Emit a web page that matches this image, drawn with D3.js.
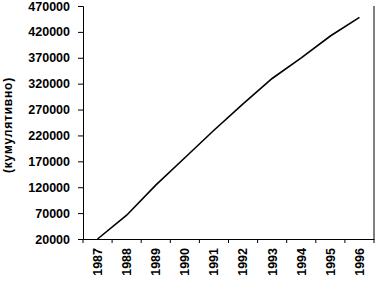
<!DOCTYPE html>
<html>
<head>
<meta charset="utf-8">
<script src="https://cdn.jsdelivr.net/npm/d3@7"></script>
<style>
  body { margin: 0; background: #fff; }
  svg text { font-family: "Liberation Sans", Arial, sans-serif; font-weight: bold; fill: #000; }
</style>
</head>
<body>
<svg id="chart" width="375" height="281"></svg>
<script>
// values
var years = ["1987", "1988", "1989", "1990", "1991", "1992", "1993", "1994", "1995", "1996"];
var cumulative = [20000, 66000, 124000, 177000, 230000, 281000, 330000, 370000, 412000, 448000];
var yTicks = [20000, 70000, 120000, 170000, 220000, 270000, 320000, 370000, 420000, 470000];
var yTitle = "(кумулятивно)";

var plotLeft = 83, plotRight = 374, plotTop = 6, plotBottom = 239;

var svg = d3.select("#chart");

var x = d3.scaleBand().domain(years).range([plotLeft, plotRight]);
var y = d3.scaleLinear().domain([20000, 470000]).range([plotBottom, plotTop]);

// y axis
var yAxis = svg.append("g")
    .attr("transform", `translate(${plotLeft},0)`)
    .call(d3.axisLeft(y).tickValues(yTicks).tickSize(5).tickPadding(8).tickFormat(d3.format("d")));
yAxis.selectAll("text").style("font-size", "12.5px");

// x axis, labels at category centres
var xAxis = svg.append("g")
    .attr("transform", `translate(0,${plotBottom})`)
    .call(d3.axisBottom(x).tickSize(0).tickPadding(6));
xAxis.selectAll("text")
    .style("font-size", "12.5px")
    .attr("text-anchor", "end")
    .attr("dy", "0.35em")
    .attr("transform", "rotate(-90)")
    .attr("x", -9)
    .attr("y", 0);

// tick marks at category boundaries
svg.append("g").selectAll("line")
    .data(years.concat(["end"]))
    .enter().append("line")
    .attr("x1", (d, i) => plotLeft + i * x.bandwidth())
    .attr("x2", (d, i) => plotLeft + i * x.bandwidth())
    .attr("y1", plotBottom)
    .attr("y2", plotBottom + 4)
    .attr("stroke", "#000");

svg.selectAll(".domain").attr("stroke", "#000");

// right border of plot
svg.append("line")
    .attr("x1", plotRight).attr("x2", plotRight)
    .attr("y1", plotTop).attr("y2", plotBottom)
    .attr("stroke", "#000");

// the line
var line = d3.line()
    .x((d, i) => x(years[i]) + x.bandwidth() / 2)
    .y(d => y(d));

svg.append("path")
    .datum(cumulative)
    .attr("d", line)
    .attr("fill", "none")
    .attr("stroke", "#000")
    .attr("stroke-width", 1.6);

// y title
svg.append("text")
    .attr("transform", "translate(12,125) rotate(-90)")
    .attr("text-anchor", "middle")
    .style("font-size", "12px")
    .style("letter-spacing", "0.8px")
    .text(yTitle);
</script>
</body>
</html>
